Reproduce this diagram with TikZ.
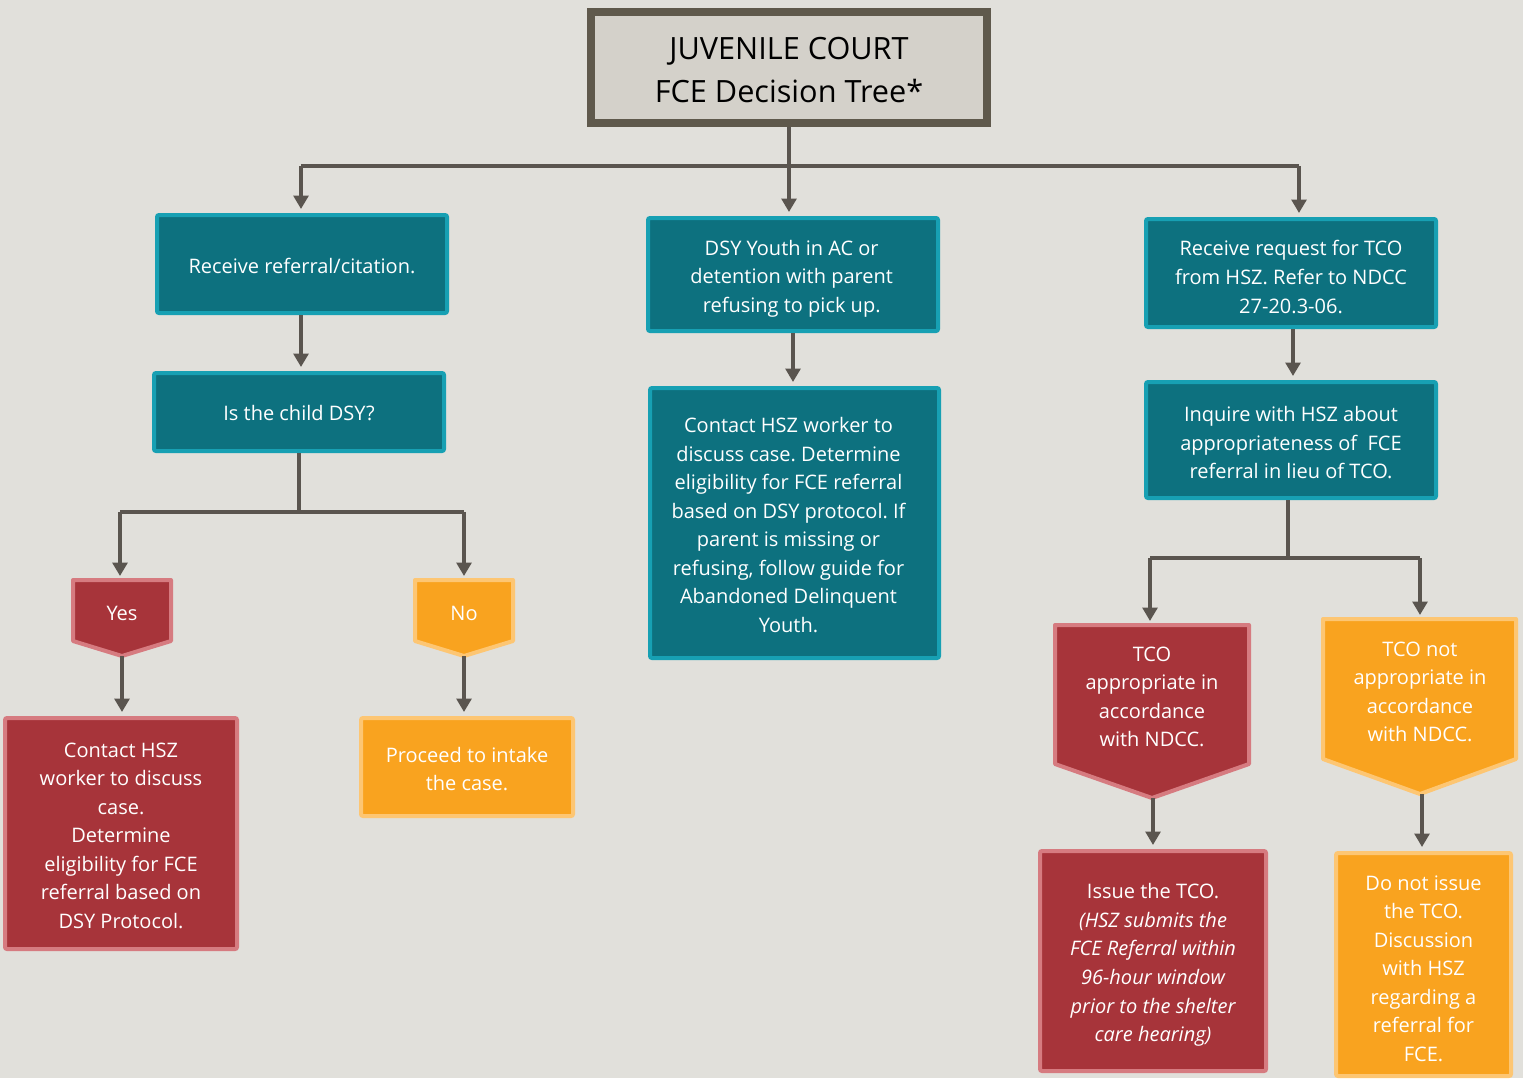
\documentclass[tikz,border=0pt]{standalone}
\usepackage{fontspec}
\setmainfont{Open Sans}
\usetikzlibrary{arrows.meta}
\definecolor{bg}{HTML}{E1E0DB}
\definecolor{titleF}{HTML}{D4D1CA}
\definecolor{titleB}{HTML}{5F594C}
\definecolor{tealF}{HTML}{0D717F}
\definecolor{tealB}{HTML}{17A0B3}
\definecolor{redF}{HTML}{A7343A}
\definecolor{redB}{HTML}{D67B80}
\definecolor{orF}{HTML}{F9A31F}
\definecolor{orB}{HTML}{FDC673}
\definecolor{arrC}{HTML}{5A554F}
\frenchspacing
\tikzset{
  x=0.75pt, y=-0.75pt,
  txt/.style={font=\fontsize{15}{21.4}\selectfont\frenchspacing, align=center, text=white, inner sep=0pt},
  tealbox/.style={draw=tealB, fill=tealF, line width=3pt, rounded corners=1.5pt, inner sep=0pt},
  redbox/.style={draw=redB, fill=redF, line width=3pt, rounded corners=1.5pt, inner sep=0pt},
  orbox/.style={draw=orB, fill=orF, line width=3pt, rounded corners=1.5pt, inner sep=0pt},
  titlebox/.style={draw=titleB, fill=titleF, line width=6pt, inner sep=0pt},
  titletxt/.style={align=center, inner sep=0pt, font=\fontsize{23}{32.25}\selectfont, text=black},
  redshape/.style={draw=redB, fill=redF, line width=3pt, line join=round},
  orshape/.style={draw=orB, fill=orF, line width=3pt, line join=round},
  conn/.style={draw=arrC, line width=3pt},
  arr/.style={conn, -{Triangle[width=11pt,length=10pt]}, shorten >=3pt},
}
\begin{document}
\begin{tikzpicture}
\fill[bg] (0,0) rectangle (1523,1078);
\useasboundingbox (0,0) rectangle (1523,1078);

% title
\node[titlebox, minimum width=297pt, minimum height=83.25pt] (title) at (789,67.5) {};
\node[titletxt] (titleT) at ([yshift=-2.25pt]title.center) {JUVENILE COURT\\FCE Decision Tree*};

% top row
\node[tealbox, minimum width=217.5pt, minimum height=73.5pt] (A) at (302,264) {};
\node[txt] (At) at ([yshift=-1.5pt]A.center) {Receive referral/citation.};
\node[tealbox, minimum width=217.5pt, minimum height=84.75pt] (B) at (793,274.5) {};
\node[txt] (Bt) at ([yshift=-3pt,xshift=-1pt]B.center) {DSY Youth in AC or\\detention with parent\\refusing to pick up.};
\node[tealbox, minimum width=217.5pt, minimum height=81pt] (C) at (1291,273) {};
\node[txt] (Ct) at ([yshift=-3pt]C.center) {Receive request for TCO\\from HSZ. Refer to NDCC\\27-20.3-06.};

% second row
\node[tealbox, minimum width=217.5pt, minimum height=58.5pt] (D) at (299,412) {};
\node[txt] (Dt) at ([yshift=-0.75pt]D.center) {Is the child DSY?};
\node[tealbox, minimum width=216.75pt, minimum height=202.5pt] (E) at (794.5,523) {};
\node[txt] (Et) at ([yshift=-1.5pt,xshift=-4.5pt]E.center) {Contact HSZ worker to\\discuss case. Determine\\eligibility for FCE referral\\based on DSY protocol. If\\parent is missing or\\refusing, follow guide for\\Abandoned Delinquent\\Youth.};
\node[tealbox, minimum width=217.5pt, minimum height=87pt] (F) at (1291,440) {};
\node[txt] (Ft) at ([yshift=-2.25pt]F.center) {Inquire with HSZ about\\appropriateness of~ FCE\\referral in lieu of TCO.};

% pentagons
\filldraw[redshape] (73,580) -- (171,580) -- (171,641) -- (122,656) -- (73,641) -- cycle;
\node[txt] (yes) at (122,613) {Yes};
\coordinate (yestop) at (120,580);
\coordinate (yestip) at (122,656);
\filldraw[orshape] (415,580) -- (513,580) -- (513,641) -- (464,656) -- (415,641) -- cycle;
\node[txt] (no) at (464,613) {No};
\coordinate (notop) at (464,580);
\coordinate (notip) at (464,656);

\filldraw[redshape] (1055,625) -- (1249,625) -- (1249,764) -- (1152,798) -- (1055,764) -- cycle;
\node[txt] (tco) at (1152,697) {TCO\\appropriate in\\accordance\\with NDCC.};
\coordinate (tcotop) at (1150,625);
\coordinate (tcotip) at (1153,798);
\filldraw[orshape] (1323,619) -- (1516,619) -- (1516,759) -- (1420,794) -- (1323,759) -- cycle;
\node[txt] (tconot) at (1420,692) {TCO not\\appropriate in\\accordance\\with NDCC.};
\coordinate (nottop) at (1420,619);
\coordinate (nottip) at (1422,794);

% bottom boxes
\node[redbox, minimum width=174pt, minimum height=173.25pt] (Y) at (121,833.5) {};
\node[txt] (Yt) at ([yshift=-1.5pt]Y.center) {Contact HSZ\\worker to discuss\\case.\\Determine\\eligibility for FCE\\referral based on\\DSY Protocol.};
\node[orbox, minimum width=159pt, minimum height=73.5pt] (N) at (467,767) {};
\node[txt] (Nt) at ([yshift=-1.5pt]N.center) {Proceed to intake\\the case.};
\node[redbox, minimum width=169.5pt, minimum height=165pt] (I) at (1153,961) {};
\node[txt] (It) at ([yshift=-3pt]I.center) {Issue the TCO.\\\itshape (HSZ submits the\\\itshape FCE Referral within\\\itshape 96-hour window\\\itshape prior to the shelter\\\itshape care hearing)};
\node[orbox, minimum width=131.25pt, minimum height=167.25pt] (X) at (1423.5,964.5) {};
\node[txt] (Xt) at ([yshift=-3pt]X.center) {Do not issue\\the TCO.\\Discussion\\with HSZ\\regarding a\\referral for\\FCE.};

% connectors
\coordinate (hl) at (301,166);
\coordinate (hr) at (1299,166);
\draw[conn] (hl) -- (hr);
\draw[arr] (title.south) -- (title.south |- B.north);
\draw[arr] (hl) -- (hl |- A.north);
\draw[arr] (hr) -- (hr |- C.north);
\draw[arr] (A.south -| hl) -- (hl |- D.north);
\draw[arr] (B.south) -- (B.south |- E.north);
\coordinate (cf) at (1293,0);
\draw[arr] (cf |- C.south) -- (cf |- F.north);

\coordinate (h2) at (299,512);
\draw[conn] (D.south) -- (D.south |- h2);
\draw[conn] (yestop |- h2) -- (notop |- h2);
\draw[arr] (yestop |- h2) -- (yestop);
\draw[arr] (notop |- h2) -- (notop);
\draw[arr] (yestip) -- (yestip |- Y.north);
\draw[arr] (notip) -- (notip |- N.north);

\coordinate (h3) at (1288,558);
\draw[conn] (F.south -| h3) -- (h3);
\draw[conn] (tcotop |- h3) -- (nottop |- h3);
\draw[arr] (tcotop |- h3) -- (tcotop);
\draw[arr] (nottop |- h3) -- (nottop);
\draw[arr] (tcotip) -- (tcotip |- I.north);
\draw[arr] (nottip) -- (nottip |- X.north);
\end{tikzpicture}
\end{document}
